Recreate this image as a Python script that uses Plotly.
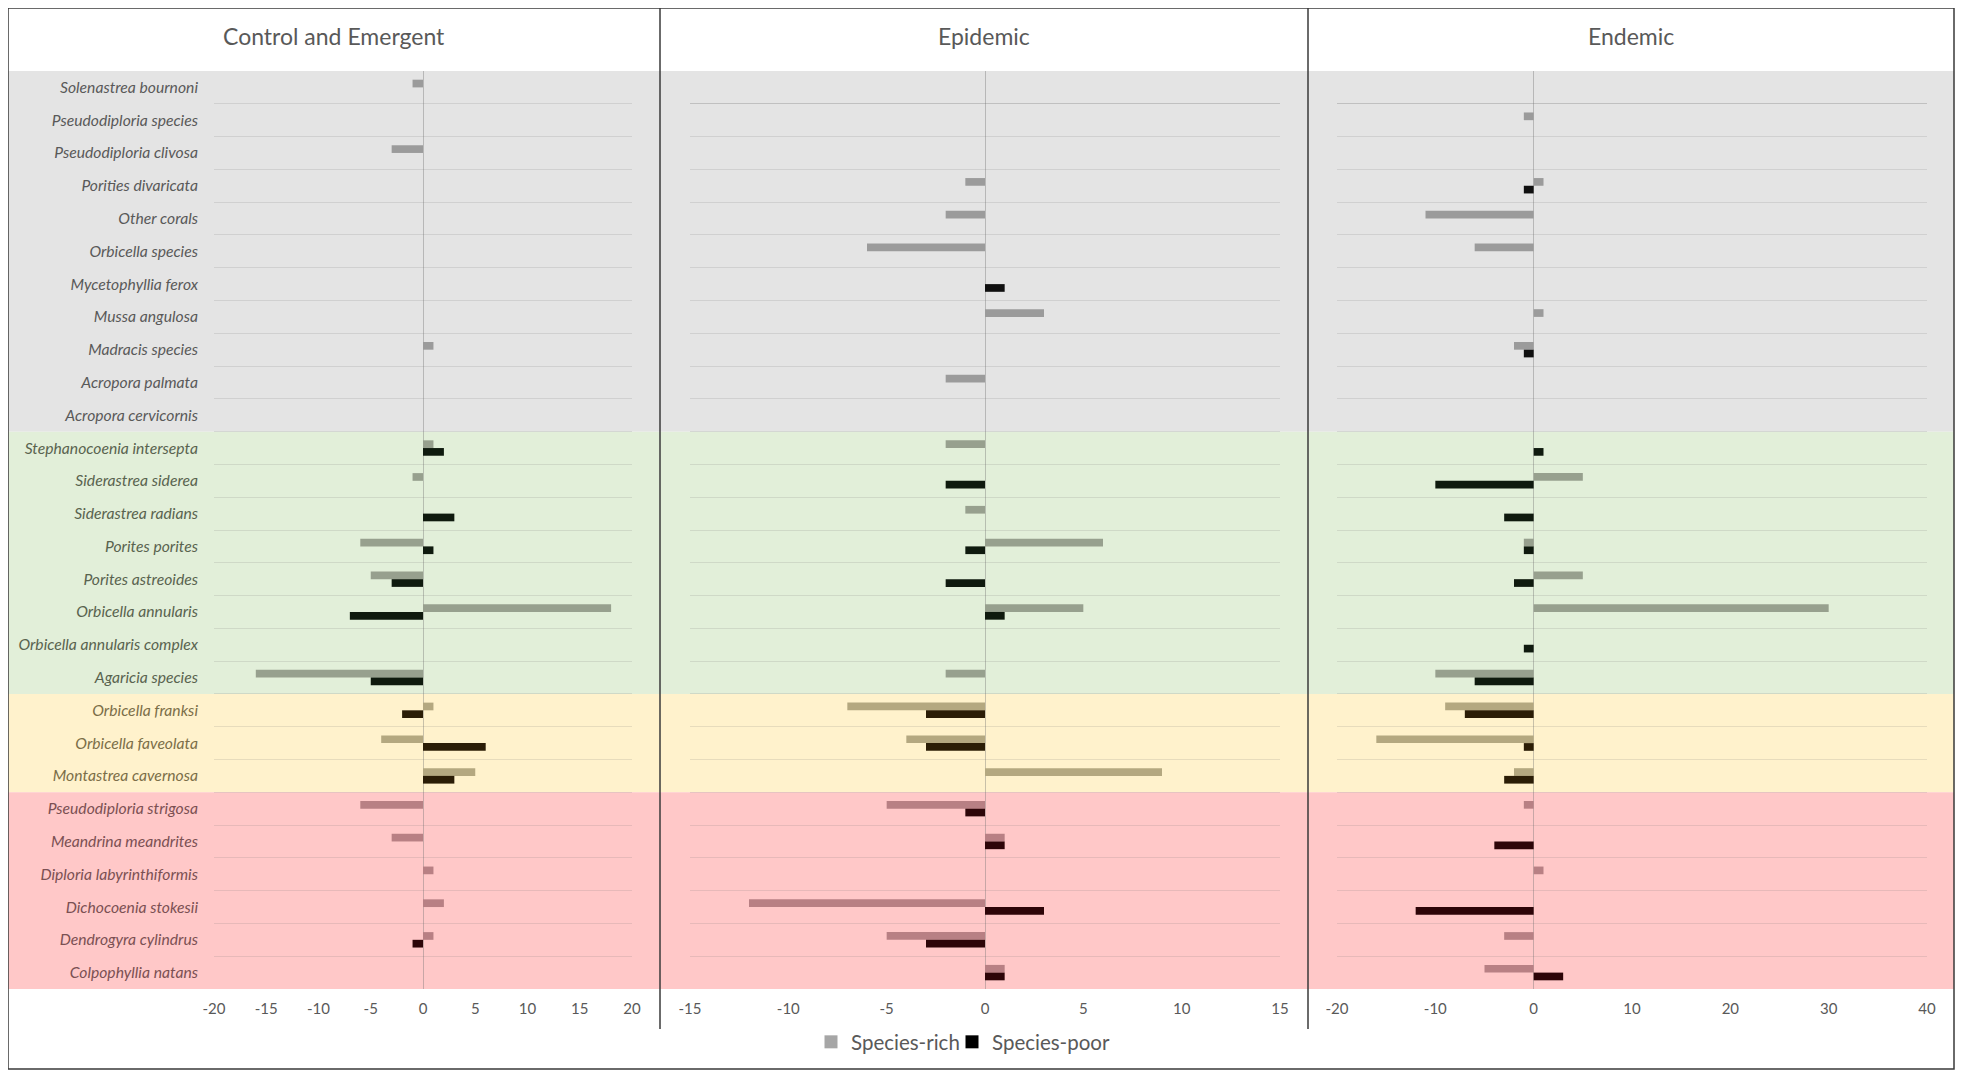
import plotly.graph_objects as go

# ---------------- data (top-to-bottom order) ----------------
categories = [
    "Solenastrea bournoni", "Pseudodiploria species", "Pseudodiploria clivosa",
    "Porities divaricata", "Other corals", "Orbicella species",
    "Mycetophyllia ferox", "Mussa angulosa", "Madracis species",
    "Acropora palmata", "Acropora cervicornis",
    "Stephanocoenia intersepta", "Siderastrea siderea", "Siderastrea radians",
    "Porites porites", "Porites astreoides", "Orbicella annularis",
    "Orbicella annularis complex", "Agaricia species",
    "Orbicella franksi", "Orbicella faveolata", "Montastrea cavernosa",
    "Pseudodiploria strigosa", "Meandrina meandrites", "Diploria labyrinthiformis",
    "Dichocoenia stokesii", "Dendrogyra cylindrus", "Colpophyllia natans",
]
# band group of each category: 0 gray, 1 green, 2 yellow, 3 red
groups = [0] * 11 + [1] * 8 + [2] * 3 + [3] * 6

panel_titles = ["Control and Emergent", "Epidemic", "Endemic"]
series_names = ["Species-rich", "Species-poor"]

control_rich = [-1, 0, -3, 0, 0, 0, 0, 0, 1, 0, 0,
                1, -1, 0, -6, -5, 18, 0, -16,
                1, -4, 5,
                -6, -3, 1, 2, 1, 0]
control_poor = [0, 0, 0, 0, 0, 0, 0, 0, 0, 0, 0,
                2, 0, 3, 1, -3, -7, 0, -5,
                -2, 6, 3,
                0, 0, 0, 0, -1, 0]
epidemic_rich = [0, 0, 0, -1, -2, -6, 0, 3, 0, -2, 0,
                 -2, 0, -1, 6, 0, 5, 0, -2,
                 -7, -4, 9,
                 -5, 1, 0, -12, -5, 1]
epidemic_poor = [0, 0, 0, 0, 0, 0, 1, 0, 0, 0, 0,
                 0, -2, 0, -1, -2, 1, 0, 0,
                 -3, -3, 0,
                 -1, 1, 0, 3, -3, 1]
endemic_rich = [0, -1, 0, 1, -11, -6, 0, 1, -2, 0, 0,
                0, 5, 0, -1, 5, 30, 0, -10,
                -9, -16, -2,
                -1, 0, 1, 0, -3, -5]
endemic_poor = [0, 0, 0, -1, 0, 0, 0, 0, -1, 0, 0,
                1, -10, -3, -1, -2, 0, -1, -6,
                -7, -1, -3,
                0, -4, 0, -12, 0, 3]

x_ranges = [[-20, 20], [-15, 15], [-20, 40]]
x_ticks = [list(range(-20, 21, 5)), list(range(-15, 16, 5)), list(range(-20, 41, 10))]

# ---------------- styling ----------------
OX, OY = 8, 8              # default page body margin
W, H = 1963 - 2 * OX, 1079 - 2 * OY
band_colors = ["#e4e4e4", "#e2efd9", "#fff2cc", "#ffc8c8"]
rich_colors = ["#9b9b9b", "#97a08e", "#b4a880", "#b88084"]
poor_colors = ["#101010", "#0f1a0e", "#2b1d06", "#2d0508"]
label_colors = ["#595959", "#59634f", "#7b6e48", "#7b5053"]
legend_colors = ["#a6a6a6", "#000000"]
text_col = "#595959"
FONT = "Lato, 'Open Sans', sans-serif"

def px_x(v):
    return (v - OX) / W

def px_y(v):
    return 1 - (v - OY) / H

y_domain = [px_y(989), px_y(71)]
x_domains = [[px_x(214), px_x(632)], [px_x(690), px_x(1280)], [px_x(1337), px_x(1927)]]

data = [(control_rich, control_poor), (epidemic_rich, epidemic_poor), (endemic_rich, endemic_poor)]

fig = go.Figure()
for i, (rich, poor) in enumerate(data):
    xa = "x" if i == 0 else f"x{i+1}"
    ya = "y" if i == 0 else f"y{i+1}"
    fig.add_trace(go.Bar(
        y=categories, x=rich, orientation="h", name=series_names[0],
        marker=dict(color=[rich_colors[g] for g in groups], line=dict(width=0)),
        xaxis=xa, yaxis=ya, showlegend=False,
    ))
    fig.add_trace(go.Bar(
        y=categories, x=poor, orientation="h", name=series_names[1],
        marker=dict(color=[poor_colors[g] for g in groups], line=dict(width=0)),
        xaxis=xa, yaxis=ya, showlegend=False,
    ))

# legend entries (one legend box per series, placed side by side)
for k, nm in enumerate(series_names):
    fig.add_trace(go.Scatter(x=[None], y=[None], mode="markers", name=nm,
                             legend="legend" if k == 0 else "legend2",
                             marker=dict(symbol="square", size=13, color=legend_colors[k])))

tick_text = [f'<i><span style="color:{label_colors[g]}">{c}</span></i>'
             for c, g in zip(categories, groups)]

legend_common = dict(orientation="h", xanchor="left", y=px_y(1042), yanchor="middle",
                     font=dict(size=20.5, color=text_col), bgcolor="rgba(0,0,0,0)",
                     itemwidth=30, borderwidth=0)

layout = dict(
    width=W, height=H,
    margin=dict(l=0, r=0, t=0, b=0, pad=0, autoexpand=False),
    paper_bgcolor="white",
    plot_bgcolor="rgba(0,0,0,0)",
    barmode="group", bargap=0.53, bargroupgap=0,
    font=dict(family=FONT, color=text_col),
    legend=dict(x=px_x(811), **legend_common),
    legend2=dict(x=px_x(952), **legend_common),
)
for i in range(3):
    xk = "xaxis" if i == 0 else f"xaxis{i+1}"
    yk = "yaxis" if i == 0 else f"yaxis{i+1}"
    layout[xk] = dict(
        domain=x_domains[i], range=x_ranges[i], anchor="y" if i == 0 else f"y{i+1}",
        tickvals=x_ticks[i], ticktext=[str(t) for t in x_ticks[i]],
        showgrid=False, zeroline=True, zerolinecolor="rgba(110,110,110,0.38)",
        zerolinewidth=1, showline=False, ticks="", ticklabelstandoff=9,
        tickfont=dict(size=15, color=text_col, family=FONT), fixedrange=True,
        automargin=False,
    )
    ycfg = dict(
        domain=y_domain, anchor="x" if i == 0 else f"x{i+1}",
        type="category", categoryorder="array", categoryarray=categories,
        range=[len(categories) - 0.5, -0.5],
        tickson="boundaries", showgrid=True, gridcolor="rgba(110,110,110,0.17)",
        gridwidth=1.3, ticks="", showline=False, zeroline=False, automargin=False,
    )
    if i == 0:
        ycfg.update(tickmode="array", tickvals=categories, ticktext=tick_text,
                    tickfont=dict(size=15.7, family=FONT), ticklabelstandoff=15)
    else:
        ycfg.update(matches="y", showticklabels=False)
    layout[yk] = ycfg

fig.update_layout(**layout)

# background bands spanning full width
spans = [(0, 11), (11, 19), (19, 22), (22, 28)]
for g, (a, b) in enumerate(spans):
    fig.add_shape(type="rect", xref="paper", yref="y", x0=px_x(8), x1=px_x(1954),
                  y0=a - 0.5, y1=b - 0.5, fillcolor=band_colors[g],
                  line=dict(width=0), layer="below")

# outer border and panel separators
fig.add_shape(type="rect", xref="paper", yref="paper", x0=px_x(8), x1=px_x(1954),
              y0=px_y(1069), y1=px_y(8), line=dict(color="#3a3a3a", width=1.5),
              fillcolor="rgba(0,0,0,0)", layer="above")
for sx in (660, 1308):
    fig.add_shape(type="line", xref="paper", yref="paper", x0=px_x(sx), x1=px_x(sx),
                  y0=px_y(1029), y1=px_y(8), line=dict(color="#3a3a3a", width=1.5),
                  layer="above")

# panel titles
for t, cx in zip(panel_titles, (334, 984, 1631)):
    fig.add_annotation(text=t, xref="paper", yref="paper", x=px_x(cx), y=px_y(36),
                       showarrow=False, xanchor="center", yanchor="middle",
                       font=dict(size=23, color=text_col, family=FONT))

fig.write_html("out.html")
